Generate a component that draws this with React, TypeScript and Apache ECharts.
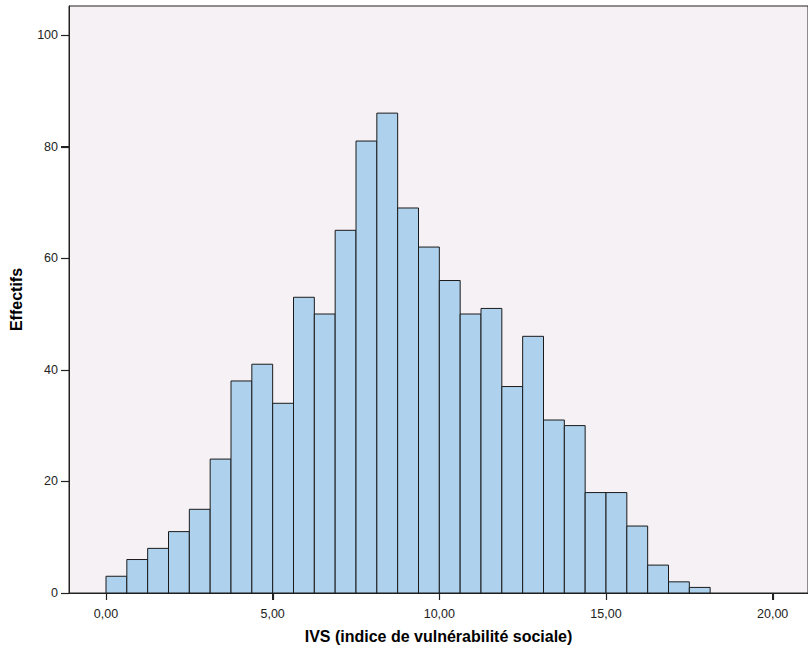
import React, { useEffect, useRef } from "react";
import * as echarts from "echarts";

const binWidth = 0.625;
const binStarts = [
  0, 0.625, 1.25, 1.875, 2.5, 3.125, 3.75, 4.375, 5, 5.625, 6.25, 6.875, 7.5, 8.125, 8.75,
  9.375, 10, 10.625, 11.25, 11.875, 12.5, 13.125, 13.75, 14.375, 15, 15.625, 16.25, 16.875, 17.5,
];
const counts = [
  3, 6, 8, 11, 15, 24, 38, 41, 34, 53, 50, 65, 81, 86, 69, 62, 56, 50, 51, 37, 46, 31, 30, 18, 18,
  12, 5, 2, 1,
];
const xTicks = [0, 5, 10, 15, 20];
const yTicks = [0, 20, 40, 60, 80, 100];

const X_MIN = -1.11;
const Y_MIN = 0;

export default function App() {
  const ref = useRef<HTMLDivElement>(null);
  useEffect(() => {
    if (!ref.current) return;
    const chart = echarts.init(ref.current, null, { renderer: "svg" });
    const data = binStarts.map((s, i) => [s, s + binWidth, counts[i]]);
    chart.setOption({
      animation: false,
      backgroundColor: "#ffffff",
      grid: {
        left: 69,
        top: 6,
        right: 0,
        bottom: 60,
        show: true,
        backgroundColor: "#F6F1F5",
        borderColor: "#222",
        borderWidth: 1,
      },
      xAxis: {
        type: "value",
        min: X_MIN,
        max: 21.06,
        name: "IVS (indice de vulnérabilité sociale)",
        nameLocation: "middle",
        nameGap: 35,
        nameTextStyle: {
          fontFamily: "Liberation Sans",
          fontWeight: "bold",
          fontSize: 16,
          color: "#000",
        },
        axisLine: { show: true, onZero: false, lineStyle: { color: "#222", width: 1 } },
        axisTick: {
          show: true,
          length: 7,
          customValues: xTicks,
          lineStyle: { color: "#222", width: 1 },
        },
        axisLabel: {
          customValues: xTicks,
          formatter: (v: number) => v.toFixed(2).replace(".", ","),
          fontFamily: "Liberation Sans",
          fontSize: 12.5,
          color: "#222",
          margin: 14,
        },
        splitLine: { show: false },
      },
      yAxis: {
        type: "value",
        min: Y_MIN,
        max: 105.2,
        name: "Effectifs",
        nameLocation: "middle",
        nameGap: 45,
        nameRotate: 90,
        nameTextStyle: {
          fontFamily: "Liberation Sans",
          fontWeight: "bold",
          fontSize: 16,
          color: "#000",
        },
        axisLine: { show: true, onZero: false, lineStyle: { color: "#222", width: 1 } },
        axisTick: {
          show: true,
          length: 8,
          customValues: yTicks,
          lineStyle: { color: "#222", width: 1 },
        },
        axisLabel: {
          customValues: yTicks,
          fontFamily: "Liberation Sans",
          fontSize: 12.5,
          color: "#222",
          margin: 11,
        },
        splitLine: { show: false },
      },
      series: [
        {
          type: "custom",
          data,
          encode: { x: [0, 1], y: 2 },
          renderItem: (params: any, api: any) => {
            const p0 = api.coord([api.value(0), 0]);
            const p1 = api.coord([api.value(1), api.value(2)]);
            return {
              type: "rect",
              shape: { x: p0[0], y: p1[1], width: p1[0] - p0[0], height: p0[1] - p1[1] },
              style: { fill: "#AED2EE", stroke: "#1a1a1a", lineWidth: 1 },
            };
          },
        },
        {
          type: "custom",
          clip: false,
          silent: true,
          z: 10,
          data: xTicks.map((v) => [v, Y_MIN]),
          encode: { x: 0, y: 1 },
          renderItem: (params: any, api: any) => {
            const p = api.coord([api.value(0), api.value(1)]);
            const x = Math.round(p[0]) + 0.5;
            return {
              type: "line",
              shape: { x1: x, y1: p[1], x2: x, y2: p[1] + 7 },
              style: { stroke: "#222", lineWidth: 1.2 },
            };
          },
        },
        {
          type: "custom",
          clip: false,
          silent: true,
          z: 10,
          data: yTicks.map((v) => [X_MIN, v]),
          encode: { x: 0, y: 1 },
          renderItem: (params: any, api: any) => {
            const p = api.coord([api.value(0), api.value(1)]);
            const y = Math.round(p[1]) + 0.5;
            return {
              type: "line",
              shape: { x1: p[0] - 8, y1: y, x2: p[0], y2: y },
              style: { stroke: "#222", lineWidth: 1.2 },
            };
          },
        },
      ],
    });
    return () => chart.dispose();
  }, []);
  return (
    <div
      ref={ref}
      style={{ position: "fixed", left: 0, top: 0, width: 808, height: 653 }}
    />
  );
}
